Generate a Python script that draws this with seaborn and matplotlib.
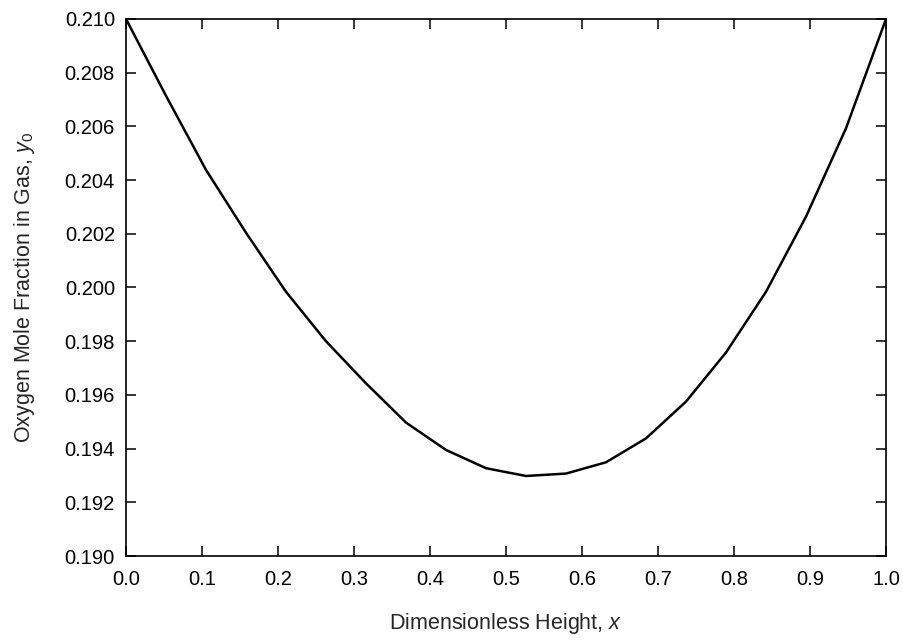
import numpy as np
import pandas as pd
import matplotlib
matplotlib.use("Agg")
import matplotlib.pyplot as plt
import seaborn as sns

# Data (20 equally spaced heights)
height = [i / 19 for i in range(20)]
oxygen_fraction = [0.2100, 0.20714, 0.20438, 0.20204, 0.19984, 0.19800,
                   0.19643, 0.19497, 0.19395, 0.19327, 0.19298, 0.19307,
                   0.19349, 0.19438, 0.19575, 0.19758, 0.19984, 0.20264,
                   0.20593, 0.2100]
x_ticks = [0.0, 0.1, 0.2, 0.3, 0.4, 0.5, 0.6, 0.7, 0.8, 0.9, 1.0]
y_ticks = [0.190, 0.192, 0.194, 0.196, 0.198, 0.200, 0.202, 0.204, 0.206, 0.208, 0.210]

df = pd.DataFrame({"x": height, "y": oxygen_fraction})

sns.set_style("ticks")
plt.rcParams["font.family"] = ["Liberation Sans", "DejaVu Sans"]
plt.rcParams["mathtext.fontset"] = "custom"
plt.rcParams["mathtext.rm"] = "Liberation Sans"
plt.rcParams["mathtext.it"] = "Liberation Sans:italic"

fig = plt.figure(figsize=(9.04, 6.44), dpi=100)
ax = fig.add_axes([126 / 904, 1 - 556 / 644, (886 - 126) / 904, (556 - 19) / 644])

sns.lineplot(data=df, x="x", y="y", ax=ax, color="black", linewidth=1.8, sort=False)

ax.set_xlim(0.0, 1.0)
ax.set_ylim(0.190, 0.210)
ax.set_xticks(x_ticks)
ax.set_yticks(y_ticks)
ax.set_xticklabels([f"{v:.1f}" for v in x_ticks])
ax.set_yticklabels([f"{v:.3f}" for v in y_ticks])

ax.tick_params(direction="in", length=7, width=1.1, top=True, right=True,
               labelsize=14.5, colors="black")
ax.tick_params(axis="x", pad=10)
ax.tick_params(axis="y", pad=8)
for s in ax.spines.values():
    s.set_visible(True)
    s.set_linewidth(1.2)
    s.set_color("black")

ax.set_xlabel(r"Dimensionless Height, $x$", fontsize=15.5, labelpad=16)
ax.set_ylabel(r"Oxygen Mole Fraction in Gas, $y_0$", fontsize=15.5, labelpad=20)

fig.savefig("out.png", dpi=100, facecolor="white")
